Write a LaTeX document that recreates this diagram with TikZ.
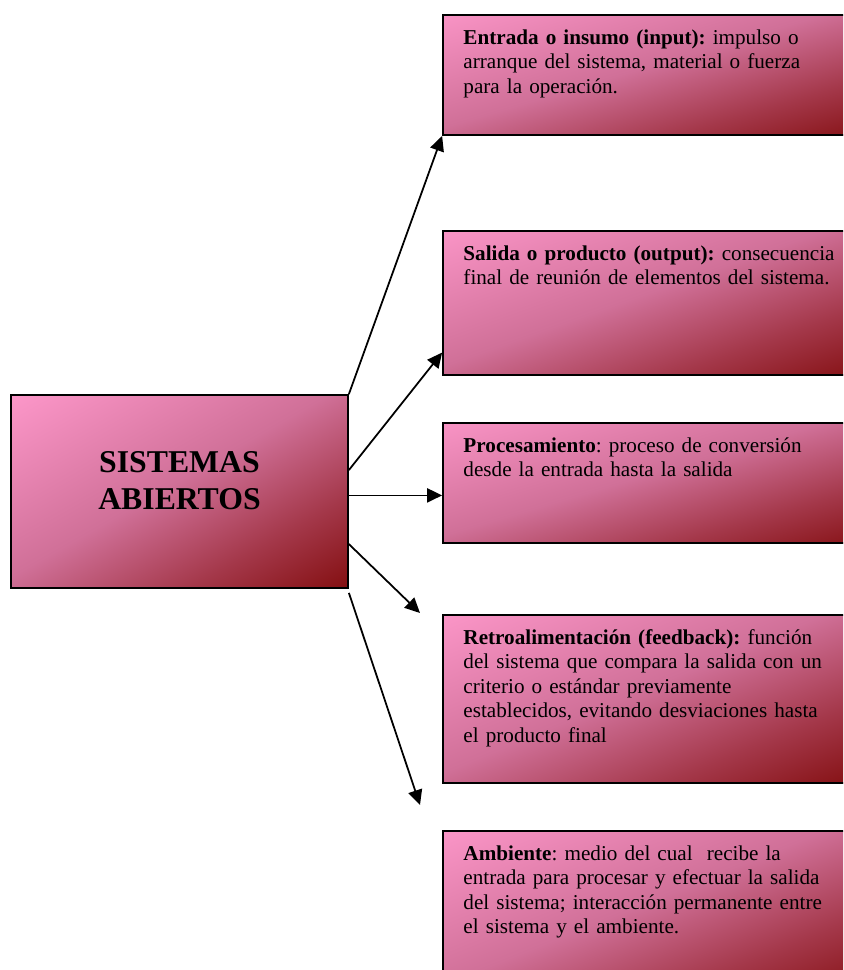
\documentclass[tikz,border=0pt]{standalone}
\usepackage{fontspec}
\setmainfont{Liberation Serif}
\usepackage{xcolor}
\usetikzlibrary{arrows.meta,positioning,calc,fit}
\definecolor{rosa}{RGB}{255,153,204}
\definecolor{malva}{RGB}{208,112,152}
\definecolor{granate}{RGB}{128,10,10}
\pgfdeclareverticalshading{degradado}{100bp}{color(0bp)=(granate); color(14bp)=(granate); color(32bp)=(granate!55!malva); color(52bp)=(malva); color(86bp)=(rosa); color(100bp)=(rosa)}

\begin{document}
\begin{tikzpicture}[x=0.567pt,y=-0.567pt,>=Stealth,
  caja/.style={draw=black,line width=1pt,inner sep=0pt,shading=degradado,shading angle=#1},
  caja/.default=20,
  texto/.style={anchor=base west,inner sep=0pt,text width=215pt,align=left,font=\fontsize{12}{13.9}\selectfont\frenchspacing},
  flecha/.style={-{Triangle[length=8.5pt,width=8pt]},line width=1pt}]
  \clip (0,0) rectangle (843,970);
  % cajas
  \node[caja=29.8,fit={(11,395) (348,588)}] (sa) {};
  \node[align=center,font=\fontsize{18}{20.7}\selectfont\bfseries] (tit) at ($(sa.center)+(0,-11)$) {SISTEMAS\\ABIERTOS};
  \node[caja=16.5,fit={(443,15) (848,135)}] (ent) {};
  \node[caja=19.6,fit={(443,231) (848,375)}] (sal) {};
  \node[caja=16.5,fit={(443,423) (848,543)}] (pro) {};
  \node[caja=22.5,fit={(443,615) (848,783)}] (ret) {};
  \node[caja=22,fit={(443,831) (848,995)}] (amb) {};
  % textos
  \node[texto] (ent-t) at ($(ent.north west)+(21,30)$) {\textbf{Entrada o insumo (input):} impulso o\\ arranque del sistema, material o fuerza\\ para la operación.};
  \node[texto] (sal-t) at ($(sal.north west)+(21,30)$) {\textbf{Salida o producto (output):} consecuencia\\ final de reunión de elementos del sistema.};
  \node[texto] (pro-t) at ($(pro.north west)+(21,30)$) {\textbf{Procesamiento}: proceso de conversión\\ desde la entrada hasta la salida};
  \node[texto] (ret-t) at ($(ret.north west)+(21,30)$) {\textbf{Retroalimentación (feedback):} función\\ del sistema que compara la salida con un\\ criterio o estándar previamente\\ establecidos, evitando desviaciones hasta\\ el producto final};
  \node[texto] (amb-t) at ($(amb.north west)+(21,30)$) {\textbf{Ambiente}: medio del cual\ \ recibe la\\ entrada para procesar y efectuar la salida\\ del sistema; interacción permanente entre\\ el sistema y el ambiente.};
  % flechas
  \coordinate (r4) at (420,613);
  \coordinate (r5) at (420,805);
  \draw[flecha] (sa.north east) -- (ent.south west);
  \draw[flecha] ($(sa.north east)!0.39!(sa.south east)$) -- ($(sal.south west)!0.16!(sal.north west)$);
  \draw[flecha] ($(sa.north east)!0.52!(sa.south east)$) coordinate (s3) -- (s3 -| pro.west);
  \draw[flecha] ($(sa.north east)!0.77!(sa.south east)$) -- (r4);
  \draw[flecha] ($(sa.south east)+(0,4)$) -- (r5);
\end{tikzpicture}
\end{document}
